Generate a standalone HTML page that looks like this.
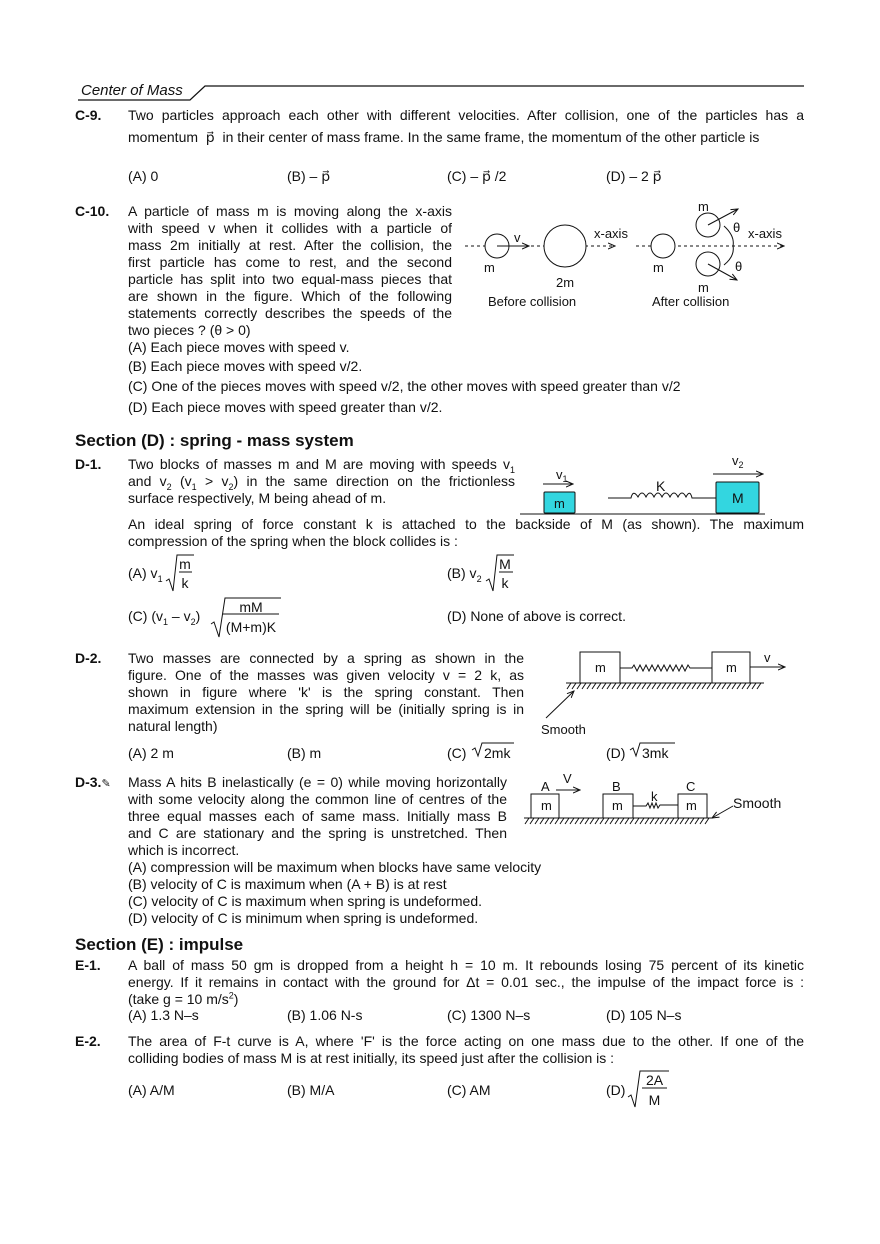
<!DOCTYPE html>
<html><head><meta charset="utf-8"><style>
body{margin:0;background:#fff}
#p{position:relative;width:880px;height:1244px;overflow:hidden;font-family:"Liberation Sans",Arial,sans-serif;color:#111}
.l{position:absolute;white-space:nowrap;font-size:14px;line-height:17px}
.j{white-space:normal;text-align:justify;text-align-last:justify;height:17px;overflow:hidden}
.b{font-weight:bold}
.h{position:absolute;white-space:nowrap;font-weight:bold;font-size:17px;line-height:20px}
.f{position:absolute;font-size:14px;line-height:14px;text-align:center}
sub,sup{font-size:9px;line-height:0}
svg{position:absolute;left:0;top:0}
</style></head><body><div id="p">
<svg width="880" height="1244" viewBox="0 0 880 1244" font-family="Liberation Sans, Arial, sans-serif" font-size="13" fill="none" stroke="#111" stroke-width="1">
<defs><marker id="a" markerWidth="8" markerHeight="8" refX="7" refY="4" orient="auto" markerUnits="userSpaceOnUse"><path d="M0,1 L7,4 L0,7" fill="none" stroke="#111"/></marker></defs>
<path d="M78,100 H190 L205,86 H804" stroke-width="1.2"/>
<line x1="465" y1="246" x2="615" y2="246" stroke-dasharray="3,3" marker-end="url(#a)"/>
<circle cx="497" cy="246" r="12" fill="#fff"/><line x1="497" y1="246" x2="529" y2="246" marker-end="url(#a)"/>
<circle cx="565" cy="246" r="21" fill="#fff"/>
<line x1="636" y1="246" x2="784" y2="246" stroke-dasharray="3,3" marker-end="url(#a)"/>
<circle cx="663" cy="246" r="12" fill="#fff"/>
<circle cx="708" cy="225" r="12"/><line x1="708" y1="225" x2="738" y2="209" marker-end="url(#a)"/>
<circle cx="708" cy="264" r="12"/><line x1="708" y1="264" x2="737" y2="280" marker-end="url(#a)"/>
<path d="M724,226 Q735,236 733,246 Q735,256 724,265"/>
<g fill="#111" stroke="none"><text x="514" y="242">v</text><text x="484" y="272">m</text><text x="556" y="287">2m</text><text x="594" y="238">x-axis</text><text x="748" y="238">x-axis</text><text x="653" y="272">m</text><text x="698" y="211">m</text><text x="698" y="292">m</text><text x="733" y="232">θ</text><text x="735" y="271">θ</text><text x="488" y="306">Before collision</text><text x="652" y="306">After collision</text></g>
<line x1="520" y1="514" x2="765" y2="514"/>
<rect x="544" y="492" width="31" height="21" fill="#33d6e0" rx="1"/>
<rect x="716" y="482" width="43" height="31" fill="#33d6e0" rx="1"/>
<line x1="543" y1="484" x2="573" y2="484" marker-end="url(#a)"/>
<line x1="713" y1="474" x2="763" y2="474" marker-end="url(#a)"/>
<path d="M608,498 H631 Q633,489 638,497 Q642,489 646,497 Q650,489 654,497 Q658,489 662,497 Q666,489 670,497 Q674,489 678,497 Q682,489 686,497 Q690,489 692,498 H716"/>
<g fill="#111" stroke="none"><text x="556" y="479">v<tspan font-size="9" dy="3">1</tspan></text><text x="732" y="465">v<tspan font-size="9" dy="3">2</tspan></text><text x="656" y="491" font-size="14">K</text><text x="554" y="508">m</text><text x="732" y="503" font-size="14">M</text></g>
<rect x="580" y="652" width="40" height="31"/><rect x="712" y="652" width="38" height="31"/>
<path d="M620,668 H632 l2,-3 3,6 3,-6 3,6 3,-6 3,6 3,-6 3,6 3,-6 3,6 3,-6 3,6 3,-6 3,6 3,-6 3,6 3,-6 3,6 3,-6 2,3 H712"/>
<line x1="750" y1="667" x2="785" y2="667" marker-end="url(#a)"/>
<line x1="566" y1="683" x2="764" y2="683"/>
<path d="M567,689 l4,-6 M572,689 l4,-6 M577,689 l4,-6 M582,689 l4,-6 M587,689 l4,-6 M592,689 l4,-6 M597,689 l4,-6 M602,689 l4,-6 M607,689 l4,-6 M612,689 l4,-6 M617,689 l4,-6 M622,689 l4,-6 M627,689 l4,-6 M632,689 l4,-6 M637,689 l4,-6 M642,689 l4,-6 M647,689 l4,-6 M652,689 l4,-6 M657,689 l4,-6 M662,689 l4,-6 M667,689 l4,-6 M672,689 l4,-6 M677,689 l4,-6 M682,689 l4,-6 M687,689 l4,-6 M692,689 l4,-6 M697,689 l4,-6 M702,689 l4,-6 M707,689 l4,-6 M712,689 l4,-6 M717,689 l4,-6 M722,689 l4,-6 M727,689 l4,-6 M732,689 l4,-6 M737,689 l4,-6 M742,689 l4,-6 M747,689 l4,-6 M752,689 l4,-6 M757,689 l4,-6"/>
<line x1="546" y1="718" x2="574" y2="691" marker-end="url(#a)"/>
<g fill="#111" stroke="none"><text x="595" y="672">m</text><text x="726" y="672">m</text><text x="764" y="662">v</text><text x="541" y="734">Smooth</text></g>
<rect x="531" y="794" width="28" height="24"/><rect x="603" y="794" width="30" height="24"/><rect x="678" y="794" width="29" height="24"/>
<path d="M633,806 H646 l2,-3 2,5 2,-5 2,5 2,-5 2,5 2,-3 H678"/>
<line x1="556" y1="790" x2="580" y2="790" marker-end="url(#a)"/>
<line x1="524" y1="818" x2="713" y2="818"/>
<path d="M525,824 l4,-6 M530,824 l4,-6 M535,824 l4,-6 M540,824 l4,-6 M545,824 l4,-6 M550,824 l4,-6 M555,824 l4,-6 M560,824 l4,-6 M565,824 l4,-6 M570,824 l4,-6 M575,824 l4,-6 M580,824 l4,-6 M585,824 l4,-6 M590,824 l4,-6 M595,824 l4,-6 M600,824 l4,-6 M605,824 l4,-6 M610,824 l4,-6 M615,824 l4,-6 M620,824 l4,-6 M625,824 l4,-6 M630,824 l4,-6 M635,824 l4,-6 M640,824 l4,-6 M645,824 l4,-6 M650,824 l4,-6 M655,824 l4,-6 M660,824 l4,-6 M665,824 l4,-6 M670,824 l4,-6 M675,824 l4,-6 M680,824 l4,-6 M685,824 l4,-6 M690,824 l4,-6 M695,824 l4,-6 M700,824 l4,-6 M705,824 l4,-6"/>
<line x1="733" y1="806" x2="712" y2="818" marker-end="url(#a)"/>
<g fill="#111" stroke="none"><text x="541" y="810">m</text><text x="612" y="810">m</text><text x="686" y="810">m</text><text x="541" y="791">A</text><text x="563" y="783">V</text><text x="612" y="791">B</text><text x="651" y="801">k</text><text x="686" y="791">C</text><text x="733" y="808" font-size="14">Smooth</text></g>
<path d="M166,581 l3,-2 4,12 4,-36 h17"/><line x1="179" y1="572" x2="192" y2="572"/>
<path d="M486,581 l3,-2 4,12 4,-36 h17"/><line x1="499" y1="572" x2="513" y2="572"/>
<path d="M211,624 l3,-2 5,15 6,-39 h56"/><line x1="223" y1="614" x2="279" y2="614"/>
<path d="M472,750 l3,-2 3,8 4,-13 h32"/>
<path d="M630,750 l3,-2 3,8 4,-13 h35"/>
<path d="M628,1097 l3,-2 4,12 5,-36 h29"/><line x1="642" y1="1088" x2="667" y2="1088"/>
</svg>

<div class="l" style="left:81px;top:82px;font-size:15px;font-style:italic">Center of Mass</div>

<div class="l b" style="left:75px;top:107px">C-9.</div>
<div class="l j" style="left:128px;top:107px;width:676px">Two particles approach each other with different velocities. After collision, one of the particles has a</div>
<div class="l" style="left:128px;top:129px">momentum &nbsp;p&#x20D7;&nbsp; in their center of mass frame. In the same frame, the momentum of the other particle is</div>
<div class="l" style="left:128px;top:168px">(A) 0</div><div class="l" style="left:287px;top:168px">(B) – p&#x20D7;</div><div class="l" style="left:447px;top:168px">(C) – p&#x20D7; /2</div><div class="l" style="left:606px;top:168px">(D) – 2 p&#x20D7;</div>

<div class="l b" style="left:75px;top:203px">C-10.</div>
<div class="l j" style="left:128px;top:203px;width:324px">A particle of mass m is moving along the x-axis</div>
<div class="l j" style="left:128px;top:220px;width:324px">with speed v when it collides with a particle of</div>
<div class="l j" style="left:128px;top:237px;width:324px">mass 2m initially at rest. After the collision, the</div>
<div class="l j" style="left:128px;top:254px;width:324px">first particle has come to rest, and the second</div>
<div class="l j" style="left:128px;top:271px;width:324px">particle has split into two equal-mass pieces that</div>
<div class="l j" style="left:128px;top:288px;width:324px">are shown in the figure. Which of the following</div>
<div class="l j" style="left:128px;top:305px;width:324px">statements correctly describes the speeds of the</div>
<div class="l" style="left:128px;top:322px">two pieces ? (θ &gt; 0)</div>
<div class="l" style="left:128px;top:339px">(A) Each piece moves with speed v.</div>
<div class="l" style="left:128px;top:358px">(B) Each piece moves with speed v/2.</div>
<div class="l" style="left:128px;top:378px">(C) One of the pieces moves with speed v/2, the other moves with speed greater than v/2</div>
<div class="l" style="left:128px;top:399px">(D) Each piece moves with speed greater than v/2.</div>

<div class="h" style="left:75px;top:431px">Section (D) : spring - mass system</div>

<div class="l b" style="left:75px;top:456px">D-1.</div>
<div class="l j" style="left:128px;top:456px;width:387px">Two blocks of masses m and M are moving with speeds v<sub>1</sub></div>
<div class="l j" style="left:128px;top:473px;width:387px">and v<sub>2</sub> (v<sub>1</sub> &gt; v<sub>2</sub>) in the same direction on the frictionless</div>
<div class="l" style="left:128px;top:490px">surface respectively, M being ahead of m.</div>
<div class="l j" style="left:128px;top:516px;width:676px">An ideal spring of force constant k is attached to the backside of M (as shown). The maximum</div>
<div class="l" style="left:128px;top:533px">compression of the spring when the block collides is :</div>
<div class="l" style="left:128px;top:565px">(A) v<sub>1</sub></div>
<div class="f" style="left:177px;top:557px;width:16px">m</div><div class="f" style="left:177px;top:576px;width:16px">k</div>
<div class="l" style="left:447px;top:565px">(B) v<sub>2</sub></div>
<div class="f" style="left:497px;top:557px;width:16px">M</div><div class="f" style="left:497px;top:576px;width:16px">k</div>
<div class="l" style="left:128px;top:608px">(C) (v<sub>1</sub> – v<sub>2</sub>)</div>
<div class="f" style="left:223px;top:600px;width:56px">mM</div><div class="f" style="left:221px;top:620px;width:60px">(M+m)K</div>
<div class="l" style="left:447px;top:608px">(D) None of above is correct.</div>

<div class="l b" style="left:75px;top:650px">D-2.</div>
<div class="l j" style="left:128px;top:650px;width:396px">Two masses are connected by a spring as shown in the</div>
<div class="l j" style="left:128px;top:667px;width:396px">figure. One of the masses was given velocity v = 2 k, as</div>
<div class="l j" style="left:128px;top:684px;width:396px">shown in figure where 'k' is the spring constant. Then</div>
<div class="l j" style="left:128px;top:701px;width:396px">maximum extension in the spring will be (initially spring is in</div>
<div class="l" style="left:128px;top:718px">natural length)</div>
<div class="l" style="left:128px;top:745px">(A) 2 m</div><div class="l" style="left:287px;top:745px">(B) m</div>
<div class="l" style="left:447px;top:745px">(C)</div><div class="l" style="left:484px;top:745px">2mk</div>
<div class="l" style="left:606px;top:745px">(D)</div><div class="l" style="left:642px;top:745px">3mk</div>

<div class="l b" style="left:75px;top:774px">D-3.<span style="font-weight:normal;font-size:11px">✎</span></div>
<div class="l j" style="left:128px;top:774px;width:379px">Mass A hits B inelastically (e = 0) while moving horizontally</div>
<div class="l j" style="left:128px;top:791px;width:379px">with some velocity along the common line of centres of the</div>
<div class="l j" style="left:128px;top:808px;width:379px">three equal masses each of same mass. Initially mass B</div>
<div class="l j" style="left:128px;top:825px;width:379px">and C are stationary and the spring is unstretched. Then</div>
<div class="l" style="left:128px;top:842px">which is incorrect.</div>
<div class="l" style="left:128px;top:859px">(A) compression will be maximum when blocks have same velocity</div>
<div class="l" style="left:128px;top:876px">(B) velocity of C is maximum when (A + B) is at rest</div>
<div class="l" style="left:128px;top:893px">(C) velocity of C is maximum when spring is undeformed.</div>
<div class="l" style="left:128px;top:910px">(D) velocity of C is minimum when spring is undeformed.</div>

<div class="h" style="left:75px;top:935px">Section (E) : impulse</div>

<div class="l b" style="left:75px;top:957px">E-1.</div>
<div class="l j" style="left:128px;top:957px;width:676px">A ball of mass 50 gm is dropped from a height h = 10 m. It rebounds losing 75 percent of its kinetic</div>
<div class="l j" style="left:128px;top:974px;width:676px">energy. If it remains in contact with the ground for Δt = 0.01 sec., the impulse of the impact force is :</div>
<div class="l" style="left:128px;top:991px">(take g = 10 m/s<sup>2</sup>)</div>
<div class="l" style="left:128px;top:1007px">(A) 1.3 N–s</div><div class="l" style="left:287px;top:1007px">(B) 1.06 N-s</div><div class="l" style="left:447px;top:1007px">(C) 1300 N–s</div><div class="l" style="left:606px;top:1007px">(D) 105 N–s</div>

<div class="l b" style="left:75px;top:1033px">E-2.</div>
<div class="l j" style="left:128px;top:1033px;width:676px">The area of F-t curve is A, where 'F' is the force acting on one mass due to the other. If one of the</div>
<div class="l" style="left:128px;top:1050px">colliding bodies of mass M is at rest initially, its speed just after the collision is :</div>
<div class="l" style="left:128px;top:1082px">(A) A/M</div><div class="l" style="left:287px;top:1082px">(B) M/A</div><div class="l" style="left:447px;top:1082px">(C) AM</div><div class="l" style="left:606px;top:1082px">(D)</div>
<div class="f" style="left:642px;top:1073px;width:25px">2A</div><div class="f" style="left:642px;top:1093px;width:25px">M</div>
</div></body></html>
